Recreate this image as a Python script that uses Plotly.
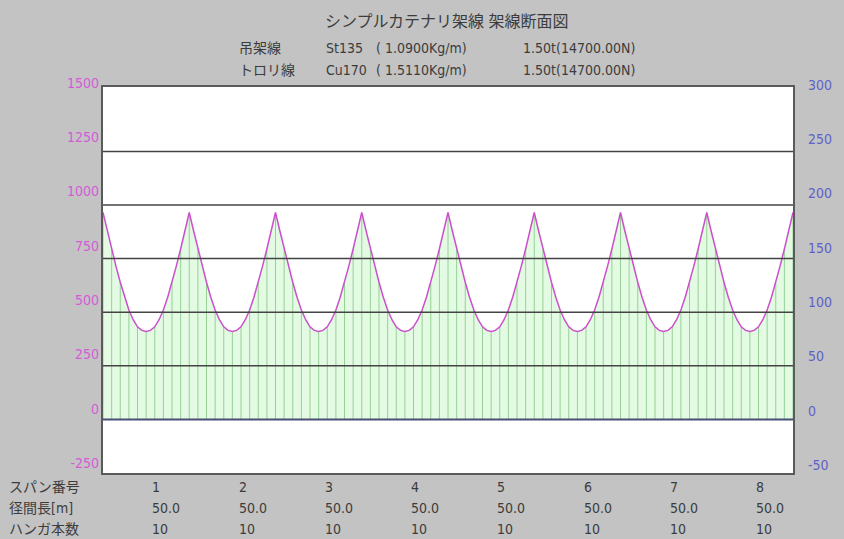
import plotly.graph_objects as go

# ---- data -------------------------------------------------------------
span_numbers = [1, 2, 3, 4, 5, 6, 7, 8]
span_lengths = [50.0, 50.0, 50.0, 50.0, 50.0, 50.0, 50.0, 50.0]
hanger_counts = [10, 10, 10, 10, 10, 10, 10, 10]

# wire height profile within one span, sampled every 2.5 m (0 .. 50 m)
profile_step = 2.5
span_profile = [965, 880, 795, 715, 640, 570, 510, 465, 432, 415, 410,
                415, 432, 465, 510, 570, 640, 715, 795, 880, 965]

left_ticks = [-250, 0, 250, 500, 750, 1000, 1250, 1500]
right_ticks = [-50, 0, 50, 100, 150, 200, 250, 300]
grid_values = [250, 500, 750, 1000, 1250]

title = "シンプルカテナリ架線 架線断面図"
wire_rows = [
    ["吊架線", "St135", "( 1.0900Kg/m)", "1.50t(14700.00N)"],
    ["トロリ線", "Cu170", "( 1.5110Kg/m)", "1.50t(14700.00N)"],
]
row_titles = ["スパン番号", "径間長[m]", "ハンガ本数"]

# ---- build the curve along the whole line ----------------------------
xs, ys = [], []
start = 0.0
for length in span_lengths:
    for j, v in enumerate(span_profile):
        if j == 0 and xs:
            continue
        xs.append(start + j * profile_step)
        ys.append(v)
    start += length
total = start

# hanger drop lines every 5 m, from the zero line up to the wire
hx, hy = [], []
for x, y in zip(xs, ys):
    if abs((x / 5.0) - round(x / 5.0)) < 1e-9:
        hx += [x, x, None]
        hy += [0, y, None]

# ---- layout geometry (pixels) ----------------------------------------
W, H = 844, 539
L, R, T, B = 103, 49, 80, 66
plot_top_px, plot_bot_px = 87, 473
pw, ph = W - L - R, H - T - B


def px_x(p):
    return (p - L) / pw


def px_y(p):
    return (H - B - p) / ph


FONT = "Liberation Sans Narrow, DejaVu Sans Condensed, Liberation Sans, Noto Sans CJK JP"
TXT = "#3c3c3c"

fig = go.Figure()

# tick-label axes (drawn first so the data subplot sits on top)
fig.add_trace(go.Scatter(x=[], y=[], xaxis="x2", yaxis="y2", showlegend=False))
fig.add_trace(go.Scatter(x=[], y=[], xaxis="x2", yaxis="y3", showlegend=False))

fig.add_trace(go.Scatter(x=xs, y=ys, mode="lines", fill="tozeroy",
                         fillcolor="#e3fae3", line=dict(color="rgba(0,0,0,0)"),
                         hoverinfo="skip", showlegend=False))
fig.add_trace(go.Scatter(x=hx, y=hy, mode="lines",
                         line=dict(color="#98d098", width=1),
                         hoverinfo="skip", showlegend=False))
fig.add_trace(go.Scatter(x=xs, y=ys, mode="lines",
                         line=dict(color="#cc4fcc", width=1.5),
                         showlegend=False))

# white plotting area
fig.add_shape(type="rect", xref="x domain", yref="y domain", x0=0, x1=1, y0=0, y1=1,
              fillcolor="#ffffff", line=dict(width=0), layer="below")

for g in grid_values:
    fig.add_shape(type="line", xref="x", yref="y", x0=0, x1=total, y0=g, y1=g,
                  line=dict(color="#444444", width=1.5), layer="above")
fig.add_shape(type="line", xref="x", yref="y", x0=0, x1=total, y0=0, y1=0,
              line=dict(color="#4a4e78", width=2), layer="above")

# label-axis ranges: label spacing is 54.3 px per step
lo_l = -250 + (463 - (H - B)) * 250 / 54.3
hi_l = -250 + (463 - T) * 250 / 54.3
lo_r = -50 + (465 - (H - B)) * 50 / 54.3
hi_r = -50 + (465 - T) * 50 / 54.3

dom_top = (H - B - plot_top_px) / ph

fig.update_layout(
    width=W, height=H,
    margin=dict(l=L, r=R, t=T, b=B),
    paper_bgcolor="#c3c3c3", plot_bgcolor="rgba(0,0,0,0)",
    showlegend=False,
    xaxis=dict(range=[0, total], domain=[0, 1], showgrid=False, zeroline=False,
               showticklabels=False, ticks="", showline=True, mirror=True,
               linecolor="#5a5a5a", linewidth=1.5),
    yaxis=dict(range=[-250, -250 + (plot_bot_px - plot_top_px) * 250 / 53.6],
               domain=[0, dom_top], showgrid=False, zeroline=False,
               showticklabels=False, ticks="", showline=True, mirror=True,
               linecolor="#5a5a5a", linewidth=1.5),
    xaxis2=dict(domain=[0, 1], range=[0, 1], visible=False, anchor="y2"),
    yaxis2=dict(domain=[0, 1], range=[lo_l, hi_l], anchor="x2", side="left",
                tickvals=left_ticks, ticktext=[str(v) for v in left_ticks],
                tickfont=dict(color="#d65ad6", size=14, family=FONT),
                showgrid=False, zeroline=False, showline=False, ticks="",
                ticklabelstandoff=3),
    yaxis3=dict(range=[lo_r, hi_r], anchor="x2", overlaying="y2", side="right",
                tickvals=right_ticks, ticktext=[str(v) for v in right_ticks],
                tickfont=dict(color="#6060c8", size=14, family=FONT),
                showgrid=False, zeroline=False, showline=False, ticks="",
                ticklabelstandoff=14),
)

ann = []
ann.append(dict(text=title, x=px_x(448), y=px_y(22), xref="paper", yref="paper",
                showarrow=False, xanchor="center", yanchor="middle",
                font=dict(size=16, color=TXT, family=FONT)))
col_px = [237, 325, 375, 522]
for r, row in enumerate(wire_rows):
    ypx = 48 + r * 22
    for c, txt in enumerate(row):
        ann.append(dict(text=txt, x=px_x(col_px[c]), y=px_y(ypx), xref="paper",
                        yref="paper", showarrow=False, xanchor="left",
                        yanchor="middle", font=dict(size=14, color=TXT, family=FONT)))

row_px = [487, 508, 529]
for r, t in enumerate(row_titles):
    ann.append(dict(text=t, x=px_x(7), y=px_y(row_px[r]), xref="paper", yref="paper",
                    showarrow=False, xanchor="left", yanchor="middle",
                    font=dict(size=14, color=TXT, family=FONT)))

start = 0.0
for k, length in enumerate(span_lengths):
    cells = [str(span_numbers[k]), f"{span_lengths[k]:.1f}", str(hanger_counts[k])]
    for r, t in enumerate(cells):
        ann.append(dict(text=t, x=start + length * 0.55, y=px_y(row_px[r]),
                        xref="x", yref="paper", showarrow=False, xanchor="left",
                        yanchor="middle",
                        font=dict(size=14, color=TXT, family=FONT)))
    start += length

fig.update_layout(annotations=ann)
fig.write_html("out.html")
